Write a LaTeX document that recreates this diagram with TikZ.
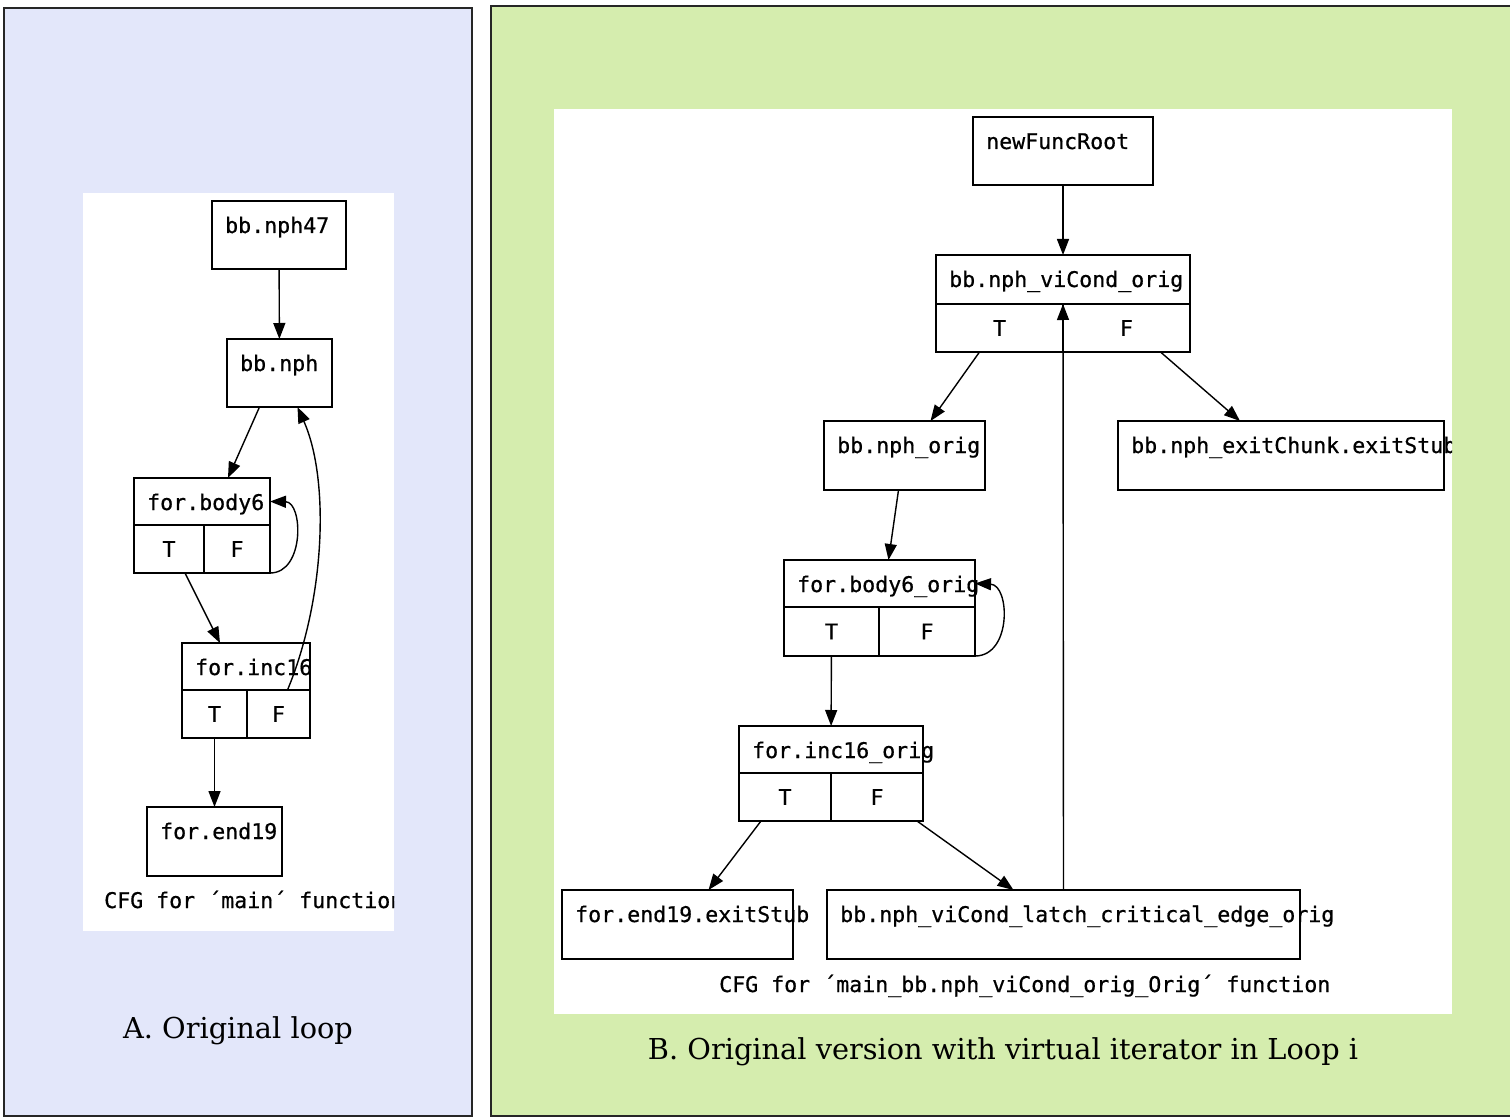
\documentclass[tikz,border=0pt]{standalone}
\usepackage{fontspec}
\setmainfont{DejaVu Serif}
\newfontfamily\cfgfont{DejaVu Sans Mono}[FakeBold=0.6]
\usepackage{tikz}
\usetikzlibrary{positioning, arrows.meta, calc}
\definecolor{loopbg}{HTML}{E3E7FA}
\definecolor{virtbg}{HTML}{D5EDAE}
\newcommand{\cfgsize}{\cfgfont\fontsize{21.6}{26}\selectfont}

\begin{document}
\begin{tikzpicture}[x=1pt, y=-1pt]
	\tikzstyle{blk}=[draw=black, line width=1.6pt, rectangle, inner sep=0pt, outer sep=0pt, anchor=north west]
	\tikzstyle{cell}=[blk, minimum height=48pt, anchor=north west, font=\cfgsize]
	\tikzstyle{lbl}=[inner sep=0pt, anchor=base west, font=\cfgsize]
	\tikzstyle{captxt}=[inner sep=0pt, anchor=base, font=\fontsize{28.8}{33}\selectfont]
	\tikzstyle{edge}=[line width=1.4pt, -{Triangle[length=16pt, width=12pt]}]
	\tikzstyle{panel}=[line width=2.5pt, draw=black!85]

	\clip (0,0) rectangle (1510,1118);

	%% A. original loop
	\fill[loopbg] (4,8) rectangle (472,1116);
	\draw[panel] (4,8) rectangle (472,1116);
	\begin{scope}
		\clip (83,193) rectangle (394,931);
		\fill[white] (83,193) rectangle (394,931);

		\node[blk, minimum width=134pt, minimum height=68pt] (nph47) at (212,201) {};
		\node[lbl] (nph47-l) at ([xshift=13pt, yshift=-32pt]nph47.north west) {bb.nph47};

		\node[blk, minimum width=105pt, minimum height=68pt] (nph) at (227,339) {};
		\node[lbl] (nph-l) at ([xshift=13pt, yshift=-32pt]nph.north west) {bb.nph};

		\node[blk, minimum width=136pt, minimum height=47pt] (body6) at (134,478) {};
		\node[lbl] (body6-l) at ([xshift=13pt, yshift=-32pt]body6.north west) {for.body6};
		\node[cell, minimum width=70pt] (body6T) at (body6.south west) {T};
		\node[cell, minimum width=66pt] (body6F) at (body6T.north east) {F};

		\node[blk, minimum width=128pt, minimum height=47pt] (inc16) at (182,643) {};
		\node[lbl] (inc16-l) at ([xshift=13pt, yshift=-32pt]inc16.north west) {for.inc16};
		\node[cell, minimum width=65pt] (inc16T) at (inc16.south west) {T};
		\node[cell, minimum width=63pt] (inc16F) at (inc16T.north east) {F};

		\node[blk, minimum width=135pt, minimum height=69pt] (end19) at (147,807) {};
		\node[lbl] (end19-l) at ([xshift=13pt, yshift=-32pt]end19.north west) {for.end19};

		\node[lbl] (cfgA) at (104,908) {CFG for ´main´ function};

		\draw[edge] (nph47) -- (nph);
		\draw[edge] ([xshift=-20pt]nph.south) -- ([xshift=26pt]body6.north);
		\draw[edge] (body6F.south east) .. controls (305,573) and (303,502) .. (body6.east);
		\draw[edge] ([xshift=16pt]body6T.south) -- ([xshift=-26pt]inc16.north);
		\draw[edge] ([xshift=9pt]inc16F.north) .. controls (325,600) and (330,480) .. ([xshift=18pt]nph.south);
		\draw[edge] (inc16T) -- (end19);
	\end{scope}
	\node[captxt] (capA) at (238,1038) {A. Original loop};

	%% B. original version with virtual iterator
	\fill[virtbg] (491,6) rectangle (1520,1116);
	\draw[panel] (1520,6) -- (491,6) -- (491,1116) -- (1520,1116);
	\begin{scope}
		\clip (554,109) rectangle (1452,1014);
		\fill[white] (554,109) rectangle (1452,1014);

		\node[blk, minimum width=180pt, minimum height=68pt] (root) at (973,117) {};
		\node[lbl] (root-l) at ([xshift=13pt, yshift=-32pt]root.north west) {newFuncRoot};

		\node[blk, minimum width=254pt, minimum height=49pt] (vic) at (936,255) {};
		\node[lbl] (vic-l) at ([xshift=13pt, yshift=-32pt]vic.north west) {bb.nph\_viCond\_orig};
		\node[cell, minimum width=127pt] (vicT) at (vic.south west) {T};
		\node[cell, minimum width=127pt] (vicF) at (vicT.north east) {F};

		\node[blk, minimum width=161pt, minimum height=69pt] (nphorig) at (824,421) {};
		\node[lbl] (nphorig-l) at ([xshift=13pt, yshift=-32pt]nphorig.north west) {bb.nph\_orig};

		\node[blk, minimum width=326pt, minimum height=69pt] (xstub) at (1118,421) {};
		\node[lbl] (xstub-l) at ([xshift=13pt, yshift=-32pt]xstub.north west) {bb.nph\_exitChunk.exitStub};

		\node[blk, minimum width=191pt, minimum height=47pt] (body6o) at (784,560) {};
		\node[lbl] (body6o-l) at ([xshift=13pt, yshift=-32pt]body6o.north west) {for.body6\_orig};
		\node[cell, minimum width=95pt, minimum height=49pt] (body6oT) at (body6o.south west) {T};
		\node[cell, minimum width=96pt, minimum height=49pt] (body6oF) at (body6oT.north east) {F};

		\node[blk, minimum width=184pt, minimum height=47pt] (inc16o) at (739,726) {};
		\node[lbl] (inc16o-l) at ([xshift=13pt, yshift=-32pt]inc16o.north west) {for.inc16\_orig};
		\node[cell, minimum width=92pt] (inc16oT) at (inc16o.south west) {T};
		\node[cell, minimum width=92pt] (inc16oF) at (inc16oT.north east) {F};

		\node[blk, minimum width=231pt, minimum height=69pt] (end19x) at (562,890) {};
		\node[lbl] (end19x-l) at ([xshift=13pt, yshift=-32pt]end19x.north west) {for.end19.exitStub};

		\node[blk, minimum width=473pt, minimum height=69pt] (latch) at (827,890) {};
		\node[lbl] (latch-l) at ([xshift=13pt, yshift=-32pt]latch.north west) {bb.nph\_viCond\_latch\_critical\_edge\_orig};

		\node[lbl] (cfgB) at (719,992) {CFG for ´main\_bb.nph\_viCond\_orig\_Orig´ function};

		\draw[edge] (root) -- (vic);
		\draw[edge] ([xshift=-20pt]vicT.south) -- ([xshift=26pt]nphorig.north);
		\draw[edge] ([xshift=34pt]vicF.south) -- ([xshift=-41pt]xstub.north);
		\draw[edge] ([xshift=-6pt]nphorig.south) -- ([xshift=9pt]body6o.north);
		\draw[edge] (body6oF.south east) .. controls (1012,656) and (1010,585) .. (body6o.east);
		\draw[edge] (body6oT) -- (inc16o);
		\draw[edge] ([xshift=-24pt]inc16oT.south) -- ([xshift=31pt]end19x.north);
		\draw[edge] ([xshift=40pt]inc16oF.south) -- ([xshift=-50pt]latch.north);
		\draw[edge] (latch.north) -- (vic.south);
	\end{scope}
	\node[captxt] (capB) at (1003,1059) {B. Original version with virtual iterator in Loop i};
\end{tikzpicture}
\end{document}
